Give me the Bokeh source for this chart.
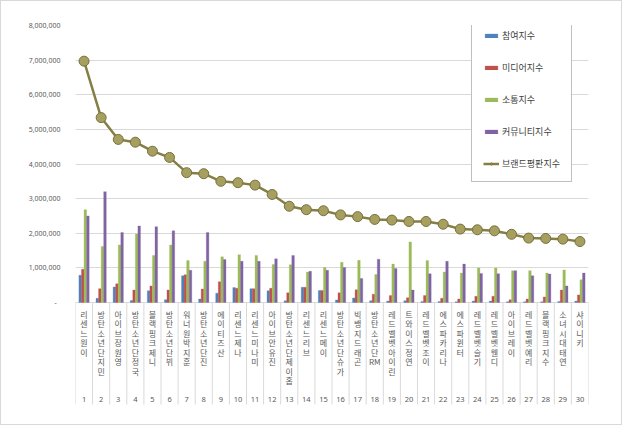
from bokeh.plotting import figure
from bokeh.models import (ColumnDataSource, FactorRange, Range1d, FixedTicker,
                          CustomJSTickFormatter, Legend, LegendItem)
from bokeh.transform import dodge
from bokeh.core.properties import value
from bokeh.embed import file_html
from bokeh.resources import INLINE

ranks = [str(i) for i in range(1, 31)]
names = ["리센느 원이", "방탄소년단 지민", "아이브 장원영", "방탄소년단 정국", "블랙핑크 제니",
         "방탄소년단 뷔", "워너원 박지훈", "방탄소년단 진", "에이티즈 산", "리센느 제나",
         "리센느 미나미", "아이브 안유진", "방탄소년단 제이홉", "리센느 리브", "리센느 메이",
         "방탄소년단 슈가", "빅뱅 지드래곤", "방탄소년단 RM", "레드벨벳 아이린", "트와이스 정연",
         "레드벨벳 조이", "에스파 카리나", "에스파 윈터", "레드벨벳 슬기", "레드벨벳 웬디",
         "아이브 레이", "레드벨벳 예리", "블랙핑크 지수", "소녀시대 태연", "샤이니 키"]

participation = [790000, 120000, 450000, 60000, 340000, 80000, 770000, 100000, 270000, 430000,
                 400000, 340000, 50000, 440000, 350000, 70000, 130000, 50000, 40000, 50000,
                 30000, 30000, 20000, 40000, 40000, 20000, 20000, 20000, 30000, 40000]
media = [960000, 400000, 540000, 360000, 480000, 360000, 800000, 390000, 600000, 410000,
         400000, 410000, 280000, 440000, 350000, 280000, 370000, 240000, 200000, 140000,
         200000, 120000, 100000, 180000, 180000, 80000, 100000, 160000, 360000, 220000]
communication = [2680000, 1620000, 1660000, 1980000, 1360000, 1660000, 1210000, 1190000, 1320000, 1380000,
                 1360000, 1100000, 1090000, 880000, 1010000, 1160000, 1220000, 810000, 1110000, 1750000,
                 1210000, 880000, 850000, 1000000, 1000000, 920000, 920000, 850000, 940000, 660000]
community = [2500000, 3200000, 2020000, 2210000, 2190000, 2070000, 930000, 2020000, 1240000, 1190000,
             1190000, 1260000, 1360000, 900000, 930000, 1010000, 690000, 1250000, 980000, 360000,
             830000, 1190000, 1110000, 840000, 830000, 920000, 770000, 820000, 480000, 850000]
brand = [6970000, 5340000, 4710000, 4630000, 4370000, 4190000, 3750000, 3720000, 3500000, 3460000,
         3390000, 3120000, 2780000, 2680000, 2650000, 2530000, 2480000, 2400000, 2380000, 2340000,
         2340000, 2260000, 2120000, 2100000, 2070000, 1970000, 1860000, 1850000, 1830000, 1760000]
series_labels = ["참여지수", "미디어지수", "소통지수", "커뮤니티지수", "브랜드평판지수"]
y_ticks = [0, 1000000, 2000000, 3000000, 4000000, 5000000, 6000000, 7000000, 8000000]

colors = ["#4F81BD", "#C0504D", "#9BBB59", "#8064A2"]
TXT = "#595959"
KR = "Noto Sans CJK KR"

# layout geometry (pixels)
frame_h = 382
top_px_to_zero = 277
ymax = 8000000
px_per = top_px_to_zero / ymax
ymin = -(frame_h - top_px_to_zero) / px_per

def px_below_zero(px):
    return -px / px_per

def pieces(s):
    out = []
    for w in s.split(" "):
        if w.isascii():
            out.append(w)
        else:
            out.extend(list(w))
    return out

# vertical (stacked) category labels, one text item per character
lab_cat, lab_txt, lab_y = [], [], []
for c, n in zip(ranks, names):
    for i, ch in enumerate(pieces(n)):
        lab_cat.append(c)
        lab_txt.append(ch)
        lab_y.append(px_below_zero(11.5 + 9.5 * i))
lab_src = ColumnDataSource(dict(cat=lab_cat, txt=lab_txt, y=lab_y))

src = ColumnDataSource(dict(
    cat=ranks, name=names,
    participation=participation, media=media, communication=communication,
    community=community, brand=brand))

p = figure(width=622, height=425, x_range=FactorRange(factors=ranks),
           y_range=Range1d(ymin, ymax), output_backend="svg", toolbar_location=None,
           x_axis_location=None, min_border_left=74, min_border_right=35,
           min_border_top=24, min_border_bottom=19)
p.outline_line_color = None
p.background_fill_color = "white"
p.border_fill_color = "white"
p.styles = {"border": "1px solid #d9d9d9"}

p.yaxis.ticker = FixedTicker(ticks=y_ticks)
p.yaxis.formatter = CustomJSTickFormatter(code="return tick == 0 ? '-  ' : tick.toLocaleString('en-US');")
p.yaxis.axis_line_color = None
p.yaxis.major_tick_line_color = None
p.yaxis.minor_tick_line_color = None
p.yaxis.major_label_standoff = 9
p.yaxis.major_label_text_font_size = "7px"
p.yaxis.major_label_text_color = TXT
p.yaxis.major_label_text_font = "Noto Sans"
p.ygrid.ticker = FixedTicker(ticks=y_ticks)
p.ygrid.grid_line_color = "#d9d9d9"
p.xgrid.grid_line_color = None

# category separators
p.segment(x0=dodge("cat", -0.5, range=p.x_range), x1=dodge("cat", -0.5, range=p.x_range),
          y0=0, y1=px_below_zero(102), source=ColumnDataSource(dict(cat=ranks)),
          line_color="#d9d9d9", line_width=1)
p.segment(x0=dodge("cat", 0.5, range=p.x_range), x1=dodge("cat", 0.5, range=p.x_range),
          y0=0, y1=px_below_zero(102), source=ColumnDataSource(dict(cat=ranks[-1:])),
          line_color="#d9d9d9", line_width=1)

fields = ["participation", "media", "communication", "community"]
offs = [-0.225, -0.075, 0.075, 0.225]
bar_rs = []
for f, o, c in zip(fields, offs, colors):
    r = p.vbar(x=dodge("cat", o, range=p.x_range), top=f, bottom=0, width=0.15,
               source=src, fill_color=c, line_color=c, line_width=0.3)
    bar_rs.append(r)

lr = p.line(x="cat", y="brand", source=src, line_color="#857E45", line_width=2.5)
sr = p.scatter(x="cat", y="brand", source=src, size=10, fill_color="#A69F60",
               line_color="#77713C", line_width=1)

p.text(x="cat", y="y", text="txt", source=lab_src, text_align="center",
       text_baseline="middle", text_font=value(KR), text_font_size="8px",
       text_color=TXT)
p.text(x="cat", y=px_below_zero(97), text="cat", source=src, text_align="center",
       text_baseline="middle", text_font=value("Noto Sans"), text_font_size="7.5px",
       text_color=TXT)

items = [LegendItem(label=series_labels[i], renderers=[bar_rs[i]]) for i in range(4)]
items.append(LegendItem(label=series_labels[4], renderers=[lr, sr]))
legend = Legend(items=items, location=(396, 225), border_line_color="#7f7f7f",
                border_line_width=1, padding=11, spacing=19, label_height=10,
                glyph_height=5, glyph_width=16, label_standoff=3, margin=0,
                label_text_font=KR, label_text_font_size="9px", label_text_color="#404040",
                background_fill_color="white", background_fill_alpha=1)
p.add_layout(legend)

open("out.html", "w").write(file_html(p, INLINE))
